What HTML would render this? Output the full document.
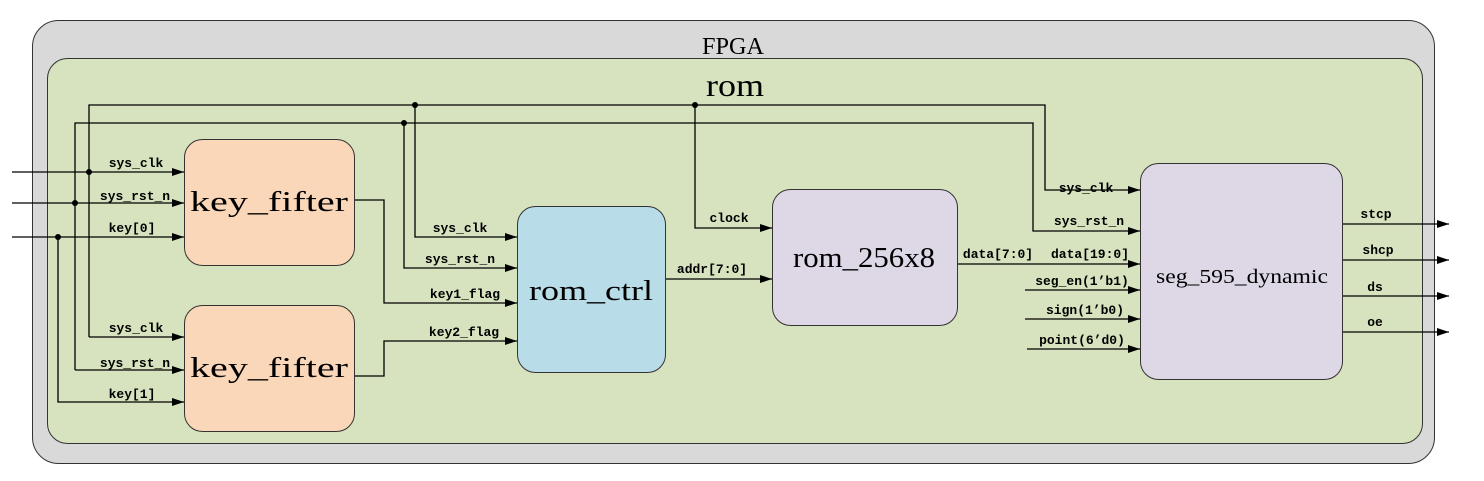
<!DOCTYPE html>
<html><head><meta charset="utf-8"><style>
html,body{margin:0;padding:0;background:#fff;}
svg{display:block;}
text{font-family:"Liberation Serif","Noto Serif CJK SC",serif;fill:#000;}
.s text{font-size:13px;font-family:"Liberation Mono",monospace;font-weight:bold;}
</style></head><body>
<svg width="1484" height="481" viewBox="0 0 1484 481" xmlns="http://www.w3.org/2000/svg">
<defs><marker id="a" markerWidth="12" markerHeight="8" refX="12" refY="4" orient="auto" markerUnits="userSpaceOnUse"><path d="M0,0 L12,4 L0,8 z" fill="#000"/></marker></defs>
<rect x="32.5" y="20.5" width="1402" height="443" rx="26" fill="#d9d9d9" stroke="#333"/>
<text x="733" y="54" font-size="24" text-anchor="middle" textLength="62" lengthAdjust="spacingAndGlyphs">FPGA</text>
<rect x="47.5" y="58.5" width="1375" height="385" rx="20" fill="#d7e3bf" stroke="#333"/>
<text x="735" y="96" font-size="32" text-anchor="middle" textLength="58" lengthAdjust="spacingAndGlyphs">rom</text>
<g fill="none" stroke="#000" stroke-width="1.3">
<polyline points="89,337 89,105 1045,105 1045,190 1140,190" marker-end="url(#a)"/>
<polyline points="75,370 75,123 1033,123 1033,231 1140,231" marker-end="url(#a)"/>
<line x1="89" y1="337" x2="184" y2="337" marker-end="url(#a)"/>
<line x1="75" y1="370" x2="184" y2="370" marker-end="url(#a)"/>
<polyline points="58,237 58,402 184,402" marker-end="url(#a)"/>
<line x1="12" y1="172" x2="184" y2="172" marker-end="url(#a)"/>
<line x1="12" y1="203" x2="184" y2="203" marker-end="url(#a)"/>
<line x1="12" y1="237" x2="184" y2="237" marker-end="url(#a)"/>
<polyline points="354,200 384,200 384,303 517,303" marker-end="url(#a)"/>
<polyline points="354,376 384,376 384,341 517,341" marker-end="url(#a)"/>
<polyline points="415,105 415,237 517,237" marker-end="url(#a)"/>
<polyline points="404,123 404,268 517,268" marker-end="url(#a)"/>
<line x1="665" y1="279" x2="772" y2="279" marker-end="url(#a)"/>
<polyline points="695,105 695,228 772,228" marker-end="url(#a)"/>
<line x1="957" y1="264" x2="1140" y2="264" marker-end="url(#a)"/>
<line x1="1025" y1="290" x2="1140" y2="290" marker-end="url(#a)"/>
<line x1="1025" y1="319" x2="1140" y2="319" marker-end="url(#a)"/>
<line x1="1027" y1="349" x2="1140" y2="349" marker-end="url(#a)"/>
<line x1="1342" y1="224" x2="1449" y2="224" marker-end="url(#a)"/>
<line x1="1342" y1="260" x2="1449" y2="260" marker-end="url(#a)"/>
<line x1="1342" y1="296" x2="1449" y2="296" marker-end="url(#a)"/>
<line x1="1342" y1="332" x2="1449" y2="332" marker-end="url(#a)"/>
</g>
<g fill="#000"><circle cx="415" cy="105" r="3"/><circle cx="695" cy="105" r="3"/><circle cx="404" cy="123" r="3"/><circle cx="89" cy="172" r="3"/><circle cx="75" cy="203" r="3"/><circle cx="58" cy="237" r="3"/></g>
<rect x="184.5" y="139.5" width="170" height="126" rx="18" fill="#fad7b9" stroke="#333"/>
<rect x="184.5" y="305.5" width="170" height="126" rx="18" fill="#fad7b9" stroke="#333"/>
<rect x="517.5" y="206.5" width="148" height="166" rx="18" fill="#b8dde8" stroke="#333"/>
<rect x="772.5" y="189.5" width="185" height="136" rx="18" fill="#ddd7e6" stroke="#333"/>
<rect x="1140.5" y="163.5" width="202" height="216" rx="18" fill="#ddd7e6" stroke="#333"/>
<text x="269" y="211" font-size="28" text-anchor="middle" textLength="158" lengthAdjust="spacingAndGlyphs">key_fifter</text>
<text x="269" y="377" font-size="28" text-anchor="middle" textLength="158" lengthAdjust="spacingAndGlyphs">key_fifter</text>
<text x="591" y="300" font-size="28" text-anchor="middle" textLength="124" lengthAdjust="spacingAndGlyphs">rom_ctrl</text>
<text x="864" y="267" font-size="28" text-anchor="middle" textLength="142" lengthAdjust="spacingAndGlyphs">rom_256x8</text>
<text x="1242" y="283" font-size="20" text-anchor="middle" textLength="172" lengthAdjust="spacingAndGlyphs">seg_595_dynamic</text>
<g class="s" text-anchor="middle">
<text x="136" y="167">sys_clk</text><text x="135" y="200">sys_rst_n</text><text x="132" y="232">key[0]</text>
<text x="136" y="332">sys_clk</text><text x="135" y="367">sys_rst_n</text><text x="132" y="398">key[1]</text>
<text x="460" y="232">sys_clk</text><text x="460" y="263">sys_rst_n</text><text x="465" y="298">key1_flag</text><text x="464" y="336">key2_flag</text>
<text x="712" y="273">addr[7:0]</text><text x="729" y="222">clock</text>
<text x="998" y="258">data[7:0]</text><text x="1090" y="258">data[19:0]</text>
<text x="1086" y="192">sys_clk</text><text x="1089" y="225">sys_rst_n</text>
<text x="1082" y="285">seg_en(1’b1)</text><text x="1085" y="314">sign(1’b0)</text><text x="1082" y="344">point(6’d0)</text>
<text x="1376" y="218">stcp</text><text x="1378" y="254">shcp</text><text x="1375" y="291">ds</text><text x="1375" y="326">oe</text>
</g>
</svg>
</body></html>
